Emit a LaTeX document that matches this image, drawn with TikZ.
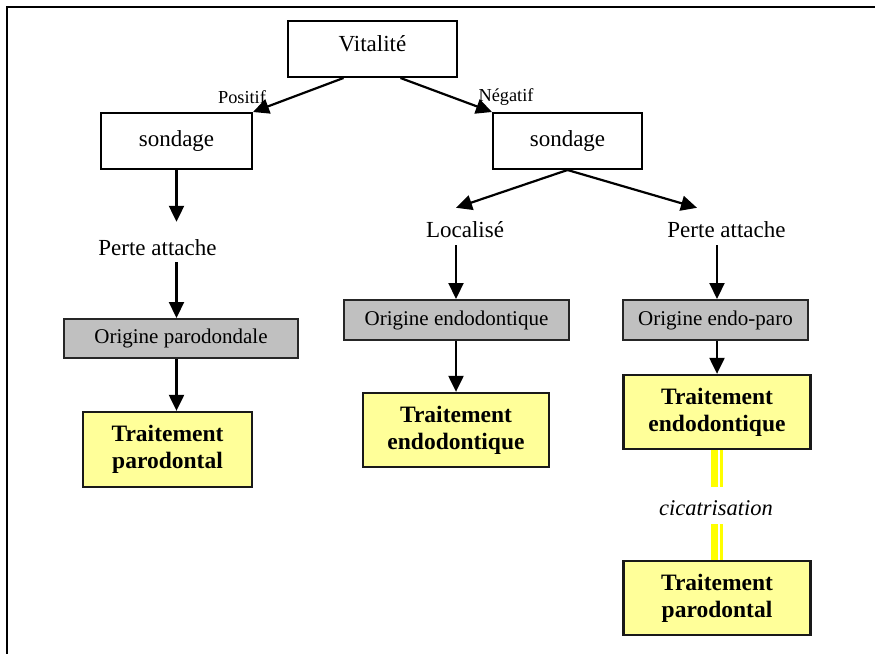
\documentclass[tikz,border=0pt]{standalone}
\usepackage{fontspec}
\setmainfont{Liberation Serif}
\usetikzlibrary{arrows.meta,calc}
\definecolor{boxgray}{HTML}{C0C0C0}
\definecolor{paleyellow}{HTML}{FFFF99}
\definecolor{baryellow}{HTML}{FFFF00}

\tikzset{
  every node/.style={inner sep=0pt},
  whitebox/.style={draw, line width=2pt, fill=white,
    font=\fontsize{23}{27}\selectfont},
  graybox/.style={draw, line width=2pt, draw=black!85, fill=boxgray,
    font=\fontsize{21}{25}\selectfont},
  yellowbox/.style={draw, line width=2.3pt, draw=black!90, fill=paleyellow, align=center,
    font=\fontsize{23.5}{27}\selectfont\bfseries},
  steptext/.style={font=\fontsize{23}{27}\selectfont},
  smalllabel/.style={font=\fontsize{18.3}{22}\selectfont},
  arr/.style={line width=2.2pt, -{Triangle[length=16pt,width=15pt]}},
  healbar/.style={draw=baryellow, line width=7pt},
  healthin/.style={draw=baryellow, line width=3pt},
}

\begin{document}
\begin{tikzpicture}[x=1pt,y=-1pt]
\useasboundingbox (0,0) rectangle (875,653);
\clip (0,0) rectangle (875,653);

% outer frame
\draw[line width=2.5pt] (7,700) -- (7,7) -- (900,7);

% top of the tree
\node[whitebox, minimum width=169pt, minimum height=56pt, text depth=10pt] (vit) at (372.5,49) {Vitalité};
\node[whitebox, minimum width=151pt, minimum height=56pt] (sl) at (176.5,141) {sondage};
\node[whitebox, minimum width=149pt, minimum height=56pt] (sr) at (567.5,141) {sondage};
\node[smalllabel] (pos) at (242,97) {Positif};
\node[smalllabel] (neg) at (506,97) {Négatif};

\draw[arr] ([xshift=-29pt]vit.south) -- (sl.north east);
\draw[arr] ([xshift=28pt]vit.south) -- (sr.north west);

% left branch
\node[steptext, text height=33pt, text depth=7pt] (pa1) at (157.5,242) {Perte attache};
\node[graybox, minimum width=234pt, minimum height=39pt] (og1) at (181,338.5) {Origine parodondale};
\node[yellowbox, minimum width=169pt, minimum height=75pt] (t1) at (167.5,449.5) {Traitement\\parodontal};

\draw[arr] (sl.south) -- (sl.south |- pa1.north);
\draw[arr] (sl.south |- pa1.south) -- (sl.south |- og1.north);
\draw[arr] (sl.south |- og1.south) -- (sl.south |- t1.north);

% middle branch
\node[steptext, text height=29pt, text depth=8pt] (loc) at (465,226.5) {Localisé};
\node[graybox, minimum width=225pt, minimum height=40pt] (og2) at (456.5,320) {Origine endodontique};
\node[yellowbox, minimum width=186pt, minimum height=74pt] (t2) at (456,430) {Traitement\\endodontique};

\draw[arr] (sr.south) -- (t2.north |- loc.north);
\draw[arr] (t2.north |- loc.south) -- (t2.north |- og2.north);
\draw[arr] (t2.north |- og2.south) -- (t2.north);

% right branch
\node[steptext, text height=29pt, text depth=8pt] (pa2) at (726.5,226.5) {Perte attache};
\node[graybox, minimum width=185pt, minimum height=40pt] (og3) at (715.5,320) {Origine endo-paro};
\node[yellowbox, minimum width=187pt, minimum height=74pt] (t3) at (717,412) {Traitement\\endodontique};
\node[font=\fontsize{22.5}{26}\selectfont\itshape, text height=28pt, text depth=9pt] (cic) at (716,505.5) {cicatrisation};
\node[yellowbox, minimum width=187pt, minimum height=74pt] (t4) at (717,598) {Traitement\\parodontal};

\draw[arr] (sr.south) -- ([xshift=-29.5pt]pa2.north);
\draw[arr] (t3.north |- pa2.south) -- (t3.north |- og3.north);
\draw[arr] (t3.north |- og3.south) -- (t3.north);

% healing link between the two treatments
\draw[healbar] ([xshift=-2.5pt]t3.south) -- ([xshift=-2.5pt]t3.south |- cic.north);
\draw[healthin] ([xshift=4.5pt]t3.south) -- ([xshift=4.5pt]t3.south |- cic.north);
\draw[healbar] ([xshift=-2.5pt]t3.south |- cic.south) -- ([xshift=-2.5pt]t4.north);
\draw[healthin] ([xshift=4.5pt]t3.south |- cic.south) -- ([xshift=4.5pt]t4.north);
\end{tikzpicture}
\end{document}
